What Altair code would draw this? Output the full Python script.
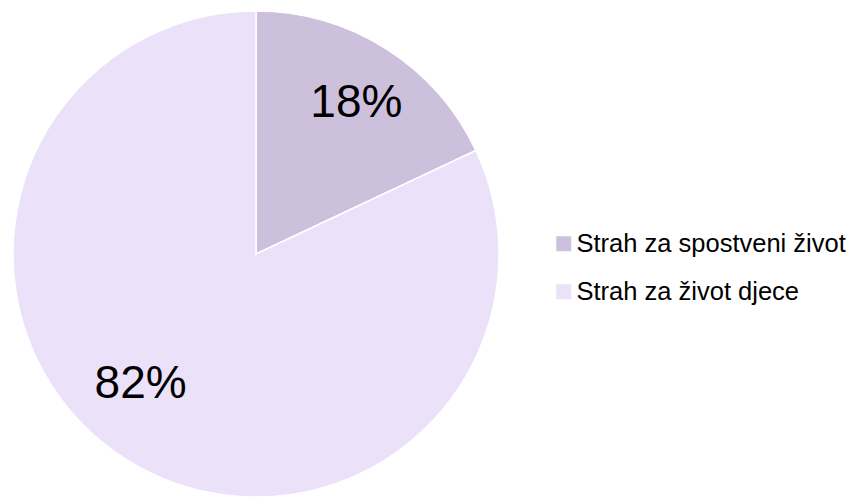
import altair as alt
import pandas as pd

categories = ["Strah za spostveni život", "Strah za život djece"]
values = [18, 82]
labels = ["18%", "82%"]
order = [0, 1]
colors = ["#CDC0DD", "#EBE1F8"]

df = pd.DataFrame({"cat": categories, "val": values, "lab": labels, "ord": order})

theta_scale = alt.Scale(domain=[0, 100])

pie = alt.Chart(df).mark_arc(outerRadius=243, stroke="white", strokeWidth=1.5).encode(
    theta=alt.Theta("val:Q", stack=True, scale=theta_scale),
    order=alt.Order("ord:Q"),
    color=alt.Color(
        "cat:N",
        scale=alt.Scale(domain=categories, range=colors),
        legend=alt.Legend(
            title=None,
            orient="none",
            legendX=543,
            legendY=219,
            symbolType="square",
            symbolSize=225,
            symbolStrokeWidth=0,
            labelFont="Liberation Sans",
            labelFontSize=25.5,
            labelColor="#000000",
            labelLimit=400,
            rowPadding=21,
            labelOffset=0,
            padding=0,
        ),
    ),
)

stacked = alt.Chart(df).transform_stack(
    stack="val", groupby=[], as_=["v0", "v1"], sort=[alt.SortField("ord", order="ascending")]
).transform_calculate(mid="(datum.v0 + datum.v1) / 2")

txt1 = stacked.mark_text(
    radius=178, fontSize=46, font="Liberation Sans", color="#000000",
    align="center", baseline="middle", dx=5, dy=-1,
).encode(
    theta=alt.Theta("mid:Q", stack=None, scale=theta_scale), text="lab:N"
).transform_filter(alt.datum.ord == 0)

txt2 = stacked.mark_text(
    radius=178, fontSize=46, font="Liberation Sans", color="#000000",
    align="center", baseline="middle", dx=-20, dy=-20,
).encode(
    theta=alt.Theta("mid:Q", stack=None, scale=theta_scale), text="lab:N"
).transform_filter(alt.datum.ord == 1)

chart = alt.layer(pie, txt1, txt2).properties(
    width=496, height=484, padding=0
).configure_view(stroke=None).configure(background="white")

chart.save("out.html", embed_options={"renderer": "svg", "actions": False})
